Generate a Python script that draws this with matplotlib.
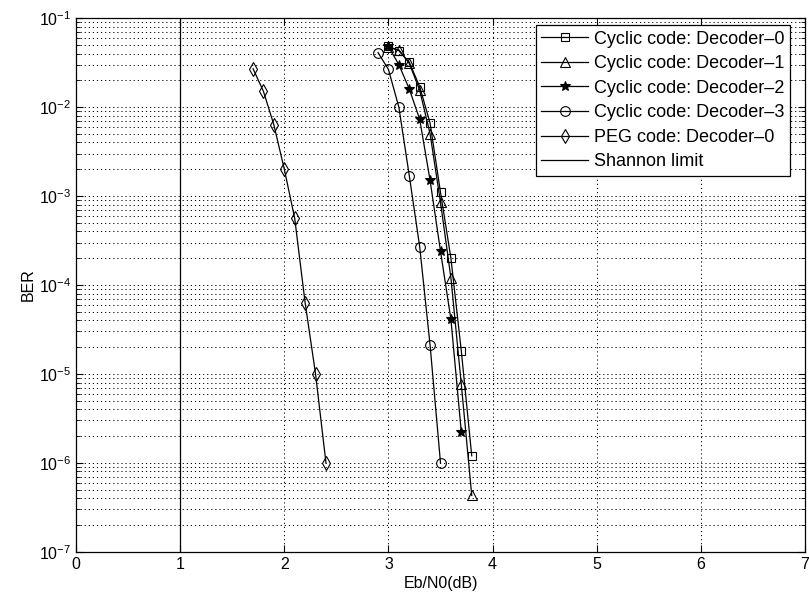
import matplotlib
matplotlib.use("Agg")
import matplotlib.pyplot as plt
from matplotlib.ticker import NullFormatter, FixedLocator, LogFormatterSciNotation

plt.rcParams['font.family'] = ['Liberation Sans', 'DejaVu Sans']
plt.rcParams['mathtext.default'] = 'regular'

# ---- data ----
snr_dec0 = [3.0, 3.1, 3.2, 3.3, 3.4, 3.5, 3.6, 3.7, 3.8]
ber_dec0 = [4.8e-2, 4.3e-2, 3.2e-2, 1.7e-2, 6.6e-3, 1.1e-3, 2.0e-4, 1.8e-5, 1.2e-6]

snr_dec1 = [3.0, 3.1, 3.2, 3.3, 3.4, 3.5, 3.6, 3.7, 3.8]
ber_dec1 = [4.7e-2, 4.4e-2, 3.1e-2, 1.55e-2, 5.0e-3, 8.5e-4, 1.2e-4, 7.6e-6, 4.3e-7]

snr_dec2 = [3.0, 3.1, 3.2, 3.3, 3.4, 3.5, 3.6, 3.7]
ber_dec2 = [4.8e-2, 3.0e-2, 1.6e-2, 7.3e-3, 1.5e-3, 2.4e-4, 4.1e-5, 2.2e-6]

snr_dec3 = [2.9, 3.0, 3.1, 3.2, 3.3, 3.4, 3.5]
ber_dec3 = [4.1e-2, 2.65e-2, 1.0e-2, 1.7e-3, 2.7e-4, 2.1e-5, 1.0e-6]

snr_peg = [1.7, 1.8, 1.9, 2.0, 2.1, 2.2, 2.3, 2.4]
ber_peg = [2.7e-2, 1.5e-2, 6.3e-3, 2.0e-3, 5.6e-4, 6.3e-5, 1.0e-5, 1.0e-6]

shannon_limit = 1.0

x_ticks = [0, 1, 2, 3, 4, 5, 6, 7]
y_decades = [-7, -6, -5, -4, -3, -2, -1]

labels = ["Cyclic code: Decoder\u20130", "Cyclic code: Decoder\u20131",
          "Cyclic code: Decoder\u20132", "Cyclic code: Decoder\u20133",
          "PEG code: Decoder\u20130", "Shannon limit"]

fig = plt.figure(figsize=(8.09, 6.05), dpi=100)
ax = fig.add_axes([0.094, 0.088, 0.901, 0.882])

lw = 0.9
common = dict(color='k', linewidth=lw, markeredgewidth=0.8)
ax.semilogy(snr_dec0, ber_dec0, marker='s', markersize=6, markerfacecolor='none', label=labels[0], **common)
ax.semilogy(snr_dec1, ber_dec1, marker='^', markersize=7, markerfacecolor='none', label=labels[1], **common)
ax.semilogy(snr_dec2, ber_dec2, marker='*', markersize=7.5, markerfacecolor='k', label=labels[2], **common)
ax.semilogy(snr_dec3, ber_dec3, marker='o', markersize=7, markerfacecolor='none', label=labels[3], **common)
ax.semilogy(snr_peg, ber_peg, marker='d', markersize=7.5, markerfacecolor='none', label=labels[4], **common)
ax.axvline(shannon_limit, color='k', linewidth=lw, label=labels[5])

ax.set_xlim(x_ticks[0], x_ticks[-1])
ax.set_ylim(10.0 ** y_decades[0], 10.0 ** y_decades[-1])
ax.xaxis.set_major_locator(FixedLocator(x_ticks))
major_y = [10.0 ** d for d in y_decades]
minor_y = [m * 10.0 ** d for d in y_decades[:-1] for m in range(2, 10)]
ax.yaxis.set_major_locator(FixedLocator(major_y))
ax.yaxis.set_major_formatter(LogFormatterSciNotation())
ax.yaxis.set_minor_locator(FixedLocator(minor_y))
ax.yaxis.set_minor_formatter(NullFormatter())

grid_style = dict(color='k', linestyle=(0, (1.2, 3.0)), linewidth=0.7)
ax.grid(True, which='major', axis='both', **grid_style)
ax.grid(True, which='minor', axis='y', **grid_style)

ax.tick_params(which='both', direction='in', top=True, right=True, labelsize=11.5)
ax.tick_params(which='major', length=5)
ax.tick_params(which='minor', length=3)
for s in ax.spines.values():
    s.set_linewidth(0.9)

ax.set_xlabel("Eb/N0(dB)", fontsize=11.5, labelpad=3)
ax.set_ylabel("BER", fontsize=11.5, labelpad=2)

leg = ax.legend(loc='upper right', bbox_to_anchor=(0.979, 0.987), borderaxespad=0,
                fontsize=13, frameon=True, fancybox=False,
                edgecolor='k', framealpha=1, borderpad=0.3, labelspacing=0.42,
                handlelength=2.6, handletextpad=0.3)
leg.get_frame().set_linewidth(0.9)

fig.savefig("out.png", dpi=100)
